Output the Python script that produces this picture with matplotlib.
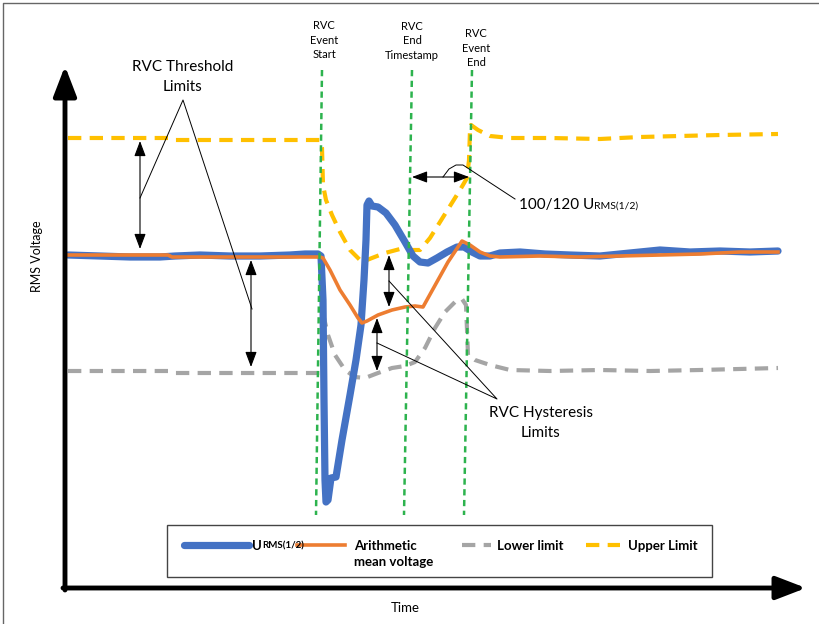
import numpy as np
import matplotlib
matplotlib.use("Agg")
import matplotlib.pyplot as plt
from matplotlib.patches import Rectangle

plt.rcParams['font.family'] = ['Lato', 'DejaVu Sans']

# schematic data, time (x) and voltage level (y, screen units, down = lower voltage)
urms_t = [68, 100, 130, 160, 175, 200, 230, 260, 290, 305, 318, 321, 323, 324, 325, 326, 328,
          331, 336, 342, 350, 356, 361, 364, 366, 367, 369, 372, 378, 386, 395, 405, 413, 420,
          428, 437, 447, 457, 464, 472, 480, 490, 500, 520, 545, 570, 600, 630, 660, 690, 720,
          750, 778]
urms_v = [255, 256, 257, 257, 256, 255, 256, 256, 255, 254, 254, 256, 300, 400, 480, 502, 500,
          478, 477, 440, 395, 360, 325, 280, 240, 205, 201, 206, 207, 213, 225, 242, 256, 262,
          263, 258, 252, 247, 247, 252, 256, 256, 253, 252, 254, 255, 256, 253, 250, 252, 251,
          252, 251]

mean_t = [68, 168, 172, 320, 323, 330, 340, 350, 358, 362, 367, 378, 392, 405, 415, 423, 428,
          438, 448, 456, 462, 470, 480, 490, 500, 540, 580, 620, 660, 700, 740, 778]
mean_v = [255, 255, 257, 257, 258, 270, 290, 305, 318, 323, 321, 315, 310, 307, 306, 307, 298,
          280, 262, 250, 241, 245, 252, 256, 257, 256, 257, 256, 255, 254, 252, 252]

lower_t = [68, 170, 175, 320, 322, 324, 328, 335, 345, 355, 365, 378, 392, 405, 415, 425, 435,
           445, 455, 462, 466, 467, 468, 475, 490, 510, 550, 600, 650, 700, 778]
lower_v = [371, 371, 373, 373, 365, 318, 335, 355, 370, 377, 378, 373, 368, 366, 362, 348, 328,
           312, 302, 299, 305, 330, 355, 360, 365, 370, 371, 370, 371, 370, 368]

upper_t = [68, 170, 175, 320, 322, 323, 326, 332, 340, 350, 362, 372, 385, 400, 412, 420, 430,
           440, 450, 460, 467, 469, 470, 471, 478, 490, 510, 550, 600, 640, 680, 720, 778]
upper_v = [138, 138, 140, 140, 148, 185, 200, 215, 232, 250, 262, 258, 253, 249, 250, 250, 238,
           222, 206, 190, 178, 160, 130, 125, 130, 136, 138, 138, 139, 137, 136, 135, 134]

# event markers: (top x, bottom x), label
event_x = [(322, 316), (412, 404), (472, 464)]
event_labels = ["RVC\nEvent\nStart", "RVC\nEnd\nTimestamp", "RVC\nEvent\nEnd"]
event_label_pos = [(324, 40), (412, 41), (476, 48)]

BLUE = '#4472C4'
ORANGE = '#ED7D31'
GRAY = '#A5A5A5'
YELLOW = '#FFC000'
GREEN = '#2DB34E'

fig = plt.figure(figsize=(8.2, 6.24), dpi=100)
ax = fig.add_axes([0, 0, 1, 1])
ax.set_xlim(0, 820)
ax.set_ylim(624, 0)
ax.axis('off')

# outer frame
ax.plot([3, 3, 820], [624, 3, 3], color='#666666', lw=1)

ax.plot(lower_t, lower_v, color=GRAY, lw=3, dashes=(3.2, 2))
ax.plot(upper_t, upper_v, color=YELLOW, lw=3, dashes=(3.2, 2))
ax.plot(urms_t, urms_v, color=BLUE, lw=5.2, solid_capstyle='round', solid_joinstyle='round')
ax.plot(mean_t, mean_v, color=ORANGE, lw=2.6, solid_joinstyle='round')

for (xt, xb), lab, (lx, ly) in zip(event_x, event_labels, event_label_pos):
    ax.plot([xt, xb], [70, 515], color=GREEN, lw=1.8, dashes=(2.5, 1.8))
    ax.text(lx, ly, lab, ha='center', va='center', fontsize=8, linespacing=1.4)

# axes with arrows
ax.annotate('', xy=(65, 66), xytext=(65, 590),
            arrowprops=dict(arrowstyle='-|>,head_width=0.5,head_length=1.3', lw=3.5,
                            color='black', mutation_scale=14, shrinkA=0, shrinkB=0))
ax.annotate('', xy=(806, 588), xytext=(63, 588),
            arrowprops=dict(arrowstyle='-|>,head_width=0.5,head_length=1.3', lw=3.5,
                            color='black', mutation_scale=14, shrinkA=0, shrinkB=0))
ax.text(37, 256, 'RMS Voltage', rotation=90, ha='center', va='center', fontsize=9)
ax.text(405, 608, 'Time', ha='center', va='center', fontsize=9.5)

# dimension arrows
dim = dict(arrowstyle='<|-|>,head_width=0.32,head_length=0.85', lw=0.8, color='black',
           mutation_scale=11, shrinkA=0, shrinkB=0)
for p0, p1 in [((140, 141), (140, 249)), ((251, 260), (251, 367)),
               ((389, 255), (389, 307)), ((377, 318), (377, 371)),
               ((412, 177), (469, 177))]:
    ax.annotate('', xy=p1, xytext=p0, arrowprops=dim)

# callouts
ax.text(183, 77, 'RVC Threshold\nLimits', ha='center', va='center', fontsize=11, linespacing=1.5)
ax.plot([140, 183, 252], [198, 100, 309], color='black', lw=0.7)

ax.text(541, 423, 'RVC Hysteresis\nLimits', ha='center', va='center', fontsize=11, linespacing=1.5)
ax.plot([389, 497, 377], [281, 399, 343], color='black', lw=0.7)

ax.plot([443, 449, 456, 463, 515], [177, 169, 165, 165, 199], color='black', lw=0.7)
t1 = ax.text(519, 205, '100/120 U', ha='left', va='center', fontsize=11)
ax.annotate('RMS(1/2)', xy=(1, 0.1), xycoords=t1, ha='left', va='bottom', fontsize=7.5)

# legend
ax.add_patch(Rectangle((167, 525), 545, 52, fill=False, edgecolor='#444444', lw=1))
ax.plot([184, 249], [545, 545], color=BLUE, lw=5.2, solid_capstyle='round')
t2 = ax.text(252, 546, 'U', ha='left', va='center', fontsize=9.5, fontweight='bold')
ax.annotate('RMS(1/2)', xy=(1, 0.1), xycoords=t2, ha='left', va='bottom', fontsize=7,
            fontweight='bold')
ax.plot([297, 345], [545, 545], color=ORANGE, lw=2.6)
ax.text(354, 554, 'Arithmetic\nmean voltage', ha='left', va='center', fontsize=9.5,
        fontweight='bold', linespacing=1.3)
ax.plot([462, 491], [545, 545], color=GRAY, lw=3, dashes=(3.2, 2))
ax.text(497, 546, 'Lower limit', ha='left', va='center', fontsize=9.5, fontweight='bold')
ax.plot([586, 620], [545, 545], color=YELLOW, lw=3, dashes=(3.2, 2))
ax.text(628, 546, 'Upper Limit', ha='left', va='center', fontsize=9.5, fontweight='bold')

fig.savefig('out.png', dpi=100)
